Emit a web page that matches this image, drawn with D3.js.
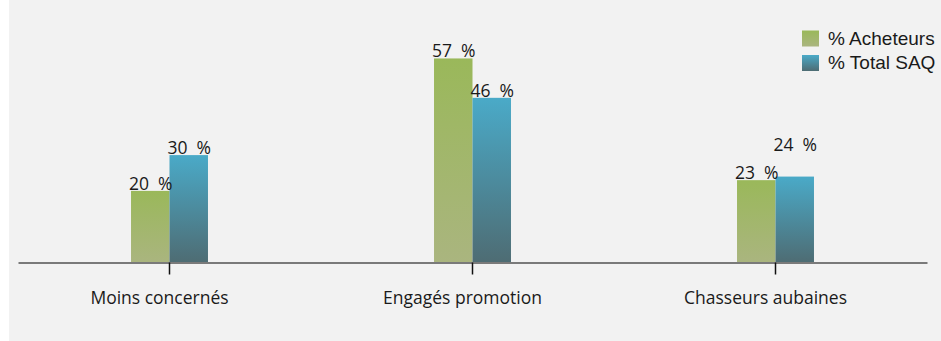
<!DOCTYPE html>
<html>
<head>
<meta charset="utf-8">
<script src="https://cdn.jsdelivr.net/npm/d3@7"></script>
<style>
  body { margin: 0; background: #fff; }
  svg text { fill: #1a1a1a; }
</style>
</head>
<body>
<svg id="chart" width="941" height="341"></svg>
<script>
// data
const categories = ['Moins concernés', 'Engagés promotion', 'Chasseurs aubaines'];
const seriesNames = ['% Acheteurs', '% Total SAQ'];
const acheteurs = [20, 57, 23];
const totalSaq = [30, 46, 24];

const W = 941, H = 341;
const svg = d3.select("#chart");

// grey panel
svg.append("rect").attr("x", 9).attr("y", 0).attr("width", W - 9).attr("height", H).attr("fill", "#f2f2f2");

// gradients, one per series, per bar (top -> bottom)
const defs = svg.append("defs");
const grads = [
    { id: "gGreen", top: "#9ab85a", bottom: "#aab57f" },
    { id: "gBlue", top: "#4aaac8", bottom: "#4e6c73" }
];
grads.forEach(g => {
    const lg = defs.append("linearGradient").attr("id", g.id)
        .attr("x1", 0).attr("y1", 0).attr("x2", 0).attr("y2", 1);
    lg.append("stop").attr("offset", "0%").attr("stop-color", g.top);
    lg.append("stop").attr("offset", "100%").attr("stop-color", g.bottom);
});

const baseY = 262.5;
const x = d3.scaleBand().domain(categories).range([18, 927]).padding(0);
const y = d3.scaleLinear().domain([0, 60]).range([baseY, baseY - 60 * 3.58]);
const barW = x.bandwidth() * 0.127;

const series = [acheteurs, totalSaq];

// bars
series.forEach((vals, s) => {
    svg.append("g").selectAll("rect")
        .data(vals)
        .enter().append("rect")
        .attr("x", (d, i) => x(categories[i]) + x.bandwidth() / 2 + (s - 1) * barW)
        .attr("y", d => y(d))
        .attr("width", barW)
        .attr("height", d => baseY - y(d))
        .attr("fill", `url(#${grads[s].id})`);
});

// value labels - push the second one up when it would collide with the first
const labelFont = "17.5px 'Open Sans', sans-serif";
categories.forEach((c, i) => {
    let y0 = y(acheteurs[i]) - 1;
    let y1 = y(totalSaq[i]) - 1;
    if (Math.abs(y0 - y1) < 20) y1 = Math.min(y0, y1) - 25;
    [y0, y1].forEach((yy, s) => {
        svg.append("text")
            .attr("x", x(c) + x.bandwidth() / 2 + (s - 1) * barW - 2)
            .attr("y", yy)
            .style("font", labelFont)
            .style("white-space", "pre")
            .attr("xml:space", "preserve")
            .text(`${series[s][i]}  %`);
    });
});

// axis
const axis = svg.append("g").attr("transform", `translate(0,${baseY})`)
    .call(d3.axisBottom(x).tickSize(12).tickSizeOuter(0).tickPadding(17));
axis.select(".domain").attr("stroke", "#7a7a7a").attr("stroke-width", 2);
axis.selectAll(".tick line").attr("stroke", "#111").attr("stroke-width", 1.5);
axis.selectAll(".tick text")
    .attr("dx", -10)
    .style("font", "17.5px 'Open Sans', sans-serif")
    .attr("fill", "#1a1a1a");

// legend
const legend = svg.append("g");
seriesNames.forEach((name, s) => {
    const ly = 30.5 + s * 24.5;
    legend.append("rect").attr("x", 802).attr("y", ly).attr("width", 17).attr("height", 16)
        .attr("fill", `url(#${grads[s].id})`);
    legend.append("text").attr("x", 828).attr("y", ly + 14)
        .style("font", "19px 'Liberation Sans', Arial, sans-serif")
        .text(name);
});
</script>
</body>
</html>
